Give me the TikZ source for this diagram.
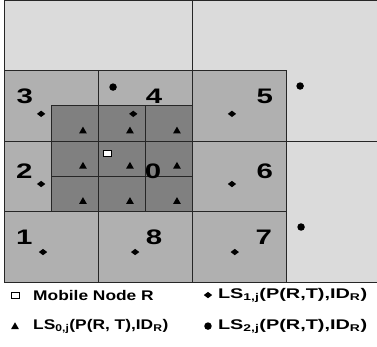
\documentclass[tikz,border=0pt]{standalone}
\usepackage{fontspec}
\newfontfamily\keyfont[FakeStretch=1.24]{Liberation Sans}
\newfontfamily\keywidefont[FakeStretch=1.42]{Liberation Sans}
\newfontfamily\numfont[FakeStretch=1.4]{Liberation Sans}
\usetikzlibrary{shapes.geometric}

\begin{document}
\begin{tikzpicture}[
        x=47pt,
        y=-35.25pt,
        grid/.style={line width=0.8pt, draw=black!85},
        lvlzero/.style={fill=black!50},
        lvlone/.style={fill=black!31},
        lvltwo/.style={fill=black!14},
        num/.style={font=\numfont\bfseries\fontsize{21}{22}\selectfont, inner sep=0pt},
        legtext/.style={font=\keyfont\bfseries\fontsize{14}{16}\selectfont, anchor=west, inner sep=0pt},
        legwide/.style={legtext, font=\keywidefont\bfseries\fontsize{14}{16}\selectfont},
        lszero/.style={regular polygon, regular polygon sides=3, fill=black, inner sep=0pt, minimum size=9pt},
        lsone/.style={diamond, fill=black, inner sep=0pt, minimum width=8.5pt, minimum height=6.5pt},
        lstwo/.style={circle, fill=black, inner sep=0pt, minimum size=7.5pt},
        mobile/.style={rectangle, draw=black, fill=white, line width=0.7pt, inner sep=0pt, minimum width=8pt, minimum height=6pt}
    ]
        \useasboundingbox (-0.0851,0) rectangle (7.936,9.816);
        % level 2 area
        \fill[lvltwo] (0,0) rectangle (7.936,8);
        \draw[grid] (7.936,0) -- (0,0) -- (0,8) -- (7.936,8);
        \draw[grid] (4,0) -- (4,2);
        \draw[grid] (6,4) -- (7.936,4);
        % level 1 cells
        \foreach \c in {0,1,2}{
            \foreach \r in {0,1,2}{
                \draw[grid, lvlone] (2*\c,2+2*\r) rectangle +(2,2);
            }
        }
        % level 0 cells
        \foreach \c in {1,2,3}{
            \foreach \r in {3,4,5}{
                \draw[grid, lvlzero] (\c,\r) rectangle +(1,1);
                \node[lszero] (ls0-\c-\r) at (\c+0.68,\r+0.72) {};
            }
        }
        \foreach \n/\u/\v in {3/0.44/2.74, 4/3.19/2.74, 5/5.55/2.74,
                              2/0.43/4.86, 0/3.17/4.86, 6/5.55/4.86,
                              1/0.43/6.73, 8/3.19/6.73, 7/5.53/6.73}{
            \node[num] (cell\n) at (\u,\v) {\n};
        }
        \foreach \n/\u/\v in {3/0.79/3.23, 4/2.75/3.23, 5/4.85/3.23,
                              2/0.79/5.22, 6/4.85/5.22,
                              1/0.83/7.15, 8/2.79/7.15, 7/4.91/7.15}{
            \node[lsone] (ls1-\n) at (\u,\v) {};
        }
        \foreach \n/\u/\v in {a/2.32/2.47, b/6.30/2.44, c/6.32/6.44}{
            \node[lstwo] (ls2-\n) at (\u,\v) {};
        }
        \node[mobile] (R) at (2.19,4.34) {};
        % legend
        \node[mobile] (key-R) at (0.234,8.37) {};
        \node[legtext] (key-R-text) at (0.617,8.37) {Mobile Node R};
        \node[lszero] (key-ls0) at (0.234,9.27) {};
        \node[legtext] (key-ls0-text) at (0.617,9.25) {LS\textsubscript{0,j}(P(R, T),ID\textsubscript{R})};
        \node[lsone] (key-ls1) at (4.34,8.37) {};
        \node[legwide] (key-ls1-text) at (4.55,8.37) {LS\textsubscript{1,j}(P(R,T),ID\textsubscript{R})};
        \node[lstwo] (key-ls2) at (4.34,9.25) {};
        \node[legwide] (key-ls2-text) at (4.55,9.25) {LS\textsubscript{2,j}(P(R,T),ID\textsubscript{R})};
    \end{tikzpicture}
\end{document}
